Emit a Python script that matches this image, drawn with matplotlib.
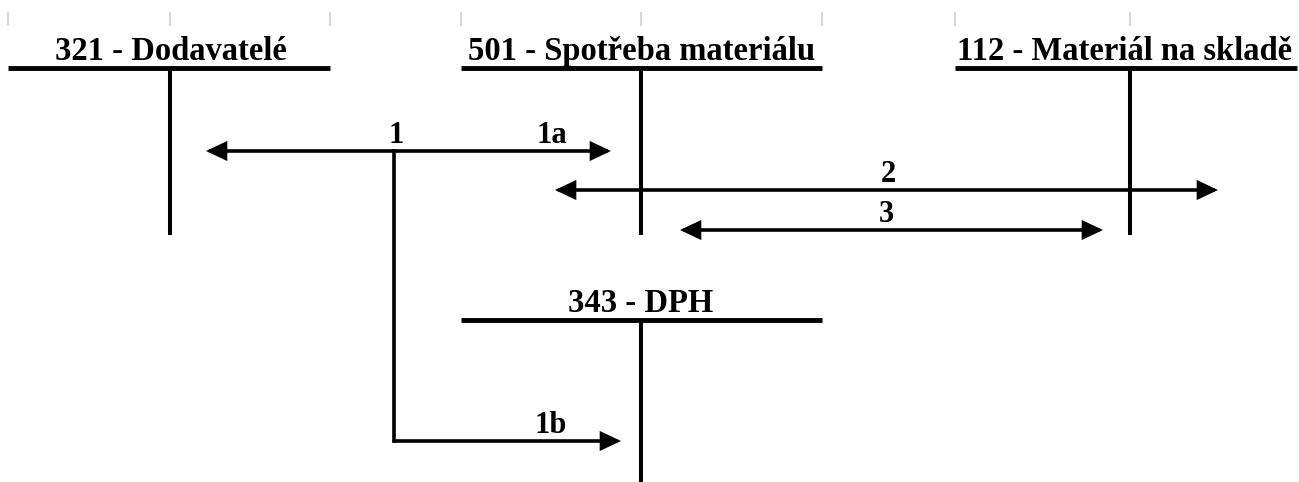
import matplotlib
matplotlib.use("Agg")
import matplotlib.pyplot as plt
from matplotlib.patches import FancyArrowPatch

# T-accounts: title, title centre x, left x, right x, top y, bottom y, split x
acc_titles = ["321 - Dodavatelé", "501 - Spotřeba materiálu", "112 - Materiál na skladě", "343 - DPH"]
acc_title_x = [171, 642, 1125, 641]
acc_left = [8, 461, 955, 461]
acc_right = [330, 822, 1297, 822]
acc_top = [68, 68, 68, 320]
acc_bottom = [235, 235, 235, 482]
acc_split = [170, 641, 1130, 641]

# double headed arrows: label, x from, x to, y, label x
arr_labels = ["2", "3"]
arr_x0 = [555, 680]
arr_x1 = [1218, 1103]
arr_y = [190, 230]
arr_lx = [888, 886]

# gray marks at the top
mark_x = [8, 170, 330, 461, 641, 822, 955, 1130]

W, H = 1299, 482
fig = plt.figure(figsize=(W / 100, H / 100), dpi=100)
ax = fig.add_axes([0, 0, 1, 1])
ax.set_xlim(0, W)
ax.set_ylim(H, 0)
ax.axis("off")

font = dict(family="Liberation Serif", fontweight="bold", color="black")

for x in mark_x:
    ax.plot([x, x], [13, 25], color="#d6d6d6", lw=1.4)

for t, tx, l, r, top, bot, s in zip(acc_titles, acc_title_x, acc_left, acc_right,
                                    acc_top, acc_bottom, acc_split):
    ax.plot([l, r], [top, top], color="black", lw=3.5, solid_capstyle="butt")
    ax.plot([s, s], [top, bot], color="black", lw=2.9, solid_capstyle="butt")
    ax.text(tx, top - 8, t, ha="center", va="baseline", fontsize=23.5, **font)

style_both = "<|-|>,head_length=11,head_width=5.2"
style_one = "-|>,head_length=11,head_width=5.2"


def arrow(p0, p1, style):
    a = FancyArrowPatch(p0, p1, arrowstyle=style, mutation_scale=1, lw=2.6,
                        color="black", shrinkA=0, shrinkB=0, joinstyle="miter")
    ax.add_patch(a)


# transaction 1: split into 1a and 1b
arrow((206, 151), (611, 151), style_both)
ax.plot([394, 394], [151, 441], color="black", lw=2.6, solid_capstyle="projecting")
arrow((394, 441), (621, 441), style_one)
ax.text(396, 143, "1", ha="center", va="baseline", fontsize=22, **font)
ax.text(552, 143, "1a", ha="center", va="baseline", fontsize=22, **font)
ax.text(551, 433, "1b", ha="center", va="baseline", fontsize=22, **font)

for lab, x0, x1, y, lx in zip(arr_labels, arr_x0, arr_x1, arr_y, arr_lx):
    arrow((x0, y), (x1, y), style_both)
    ax.text(lx, y - 8, lab, ha="center", va="baseline", fontsize=22, **font)

fig.savefig("out.png", dpi=100)
